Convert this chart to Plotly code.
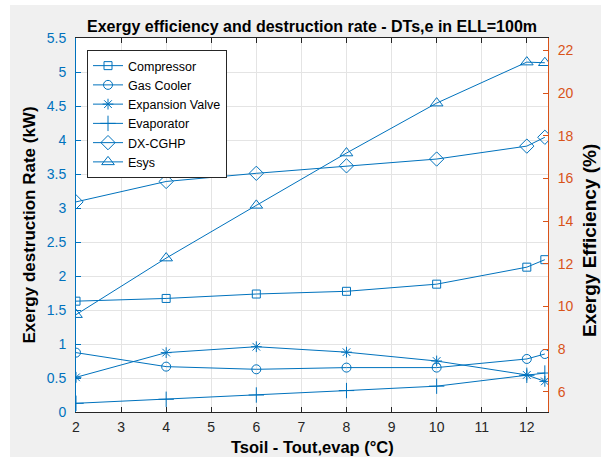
import plotly.graph_objects as go

# ---- data ----
x_vals = [2, 4, 6, 8, 10, 12, 12.4]
compressor = [1.63, 1.67, 1.735, 1.775, 1.88, 2.13, 2.24]
gas_cooler = [0.873, 0.667, 0.628, 0.653, 0.653, 0.78, 0.853]
expansion_valve = [0.51, 0.873, 0.96, 0.88, 0.75, 0.545, 0.45]
evaporator = [0.128, 0.187, 0.25, 0.315, 0.38, 0.54, 0.573]
dx_cghp = [3.09, 3.39, 3.51, 3.62, 3.72, 3.91, 4.04]
esys = [9.62, 12.27, 14.74, 17.19, 19.53, 21.45, 21.42]

x_ticks = [2, 3, 4, 5, 6, 7, 8, 9, 10, 11, 12]
left_ticks = [0, 0.5, 1, 1.5, 2, 2.5, 3, 3.5, 4, 4.5, 5, 5.5]
right_ticks = [6, 8, 10, 12, 14, 16, 18, 20, 22]

BLUE = "#0072BD"
ORANGE = "#D95319"
DARK = "#262626"
FONT = "Liberation Sans, Arial, Helvetica, sans-serif"

fig = go.Figure()

series = [
    ("Compressor", compressor, "square-open", 8, "y"),
    ("Gas Cooler", gas_cooler, "circle-open", 9, "y"),
    ("Expansion Valve", expansion_valve, "asterisk-open", 9, "y"),
    ("Evaporator", evaporator, "cross-thin-open", 11, "y"),
    ("DX-CGHP", dx_cghp, "diamond-open", 11, "y"),
    ("Esys", esys, "triangle-up-open", 11, "y2"),
]
for name, vals, sym, size, ax in series:
    fig.add_trace(go.Scatter(
        x=x_vals, y=vals, name=name, yaxis=ax, mode="lines+markers",
        line=dict(color=BLUE, width=1),
        marker=dict(symbol=sym, size=size, color=BLUE, line=dict(color=BLUE, width=1)),
    ))

W, H = 601, 457
ml, mr, mt, mb = 76, 53, 38, 45
pw, ph = W - ml - mr, H - mt - mb

def px2x(p):
    return (p - ml) / pw

def py2y(p):
    return (H - mb - p) / ph

fig.update_layout(
    width=W, height=H,
    margin=dict(l=ml, r=mr, t=mt, b=mb, autoexpand=False),
    paper_bgcolor="#F0F0F0",
    plot_bgcolor="white",
    font=dict(family=FONT, size=14, color=DARK),
    title=dict(
        text="<b>Exergy efficiency and destruction rate - DTs,e in ELL=100m</b>",
        x=0.5, xref="paper", xanchor="center",
        y=1 - 26 / H, yref="container", yanchor="middle",
        font=dict(size=16, color="#000000", family=FONT),
    ),
    xaxis=dict(
        range=[2, 12.47], tickvals=x_ticks, ticks="inside", ticklen=5,
        tickcolor=DARK, showline=True, linecolor=DARK, linewidth=1, mirror="ticks",
        showgrid=True, gridcolor="#E4E4E4", gridwidth=1, zeroline=False,
        tickfont=dict(size=14, color=DARK), ticklabelstandoff=2, automargin=False,
    ),
    yaxis=dict(
        range=[0, 5.5], tickvals=left_ticks, ticktext=[("%g" % v) for v in left_ticks],
        ticks="inside", ticklen=5, tickcolor=BLUE,
        showline=True, linecolor=BLUE, linewidth=1,
        showgrid=True, gridcolor="#E4E4E4", gridwidth=1, zeroline=False,
        tickfont=dict(size=14, color=BLUE), ticklabelstandoff=6, automargin=False,
        title=dict(text="<b>Exergy destruction Rate (kW)</b>", font=dict(size=17, color="#000000"), standoff=6),
    ),
    yaxis2=dict(
        range=[5.06, 22.58], tickvals=right_ticks, overlaying="y", side="right",
        ticks="inside", ticklen=5, tickcolor=ORANGE,
        showline=True, linecolor=ORANGE, linewidth=1,
        showgrid=False, zeroline=False,
        tickfont=dict(size=14, color=ORANGE), ticklabelstandoff=6, automargin=False,
    ),
    legend=dict(
        x=px2x(87), y=py2y(50), xanchor="left", yanchor="top",
        bgcolor="white", bordercolor=DARK, borderwidth=1,
        font=dict(size=12.5, color="#000000"),
        tracegroupgap=0,
    ),
    showlegend=True,
    annotations=[
        dict(text="<b>Exergy Efficiency (%)</b>", textangle=-90,
             xref="paper", yref="paper", x=px2x(590), y=py2y(241),
             xanchor="center", yanchor="middle", showarrow=False,
             font=dict(size=19, color="#000000", family=FONT)),
        dict(text="<b>Tsoil - Tout,evap (°C)</b>",
             xref="paper", yref="paper", x=px2x(312), y=py2y(446.5),
             xanchor="center", yanchor="middle", showarrow=False,
             font=dict(size=16.5, color="#000000", family=FONT)),
    ],
    shapes=[
        dict(type="rect", xref="paper", yref="paper", layer="below",
             x0=px2x(-5), x1=px2x(10), y0=py2y(H + 5), y1=py2y(-5),
             fillcolor="white", line=dict(width=0)),
        dict(type="rect", xref="paper", yref="paper", layer="below",
             x0=px2x(-5), x1=px2x(W + 5), y0=py2y(5), y1=py2y(-5),
             fillcolor="white", line=dict(width=0)),
    ],
)

fig.write_html("out.html")
